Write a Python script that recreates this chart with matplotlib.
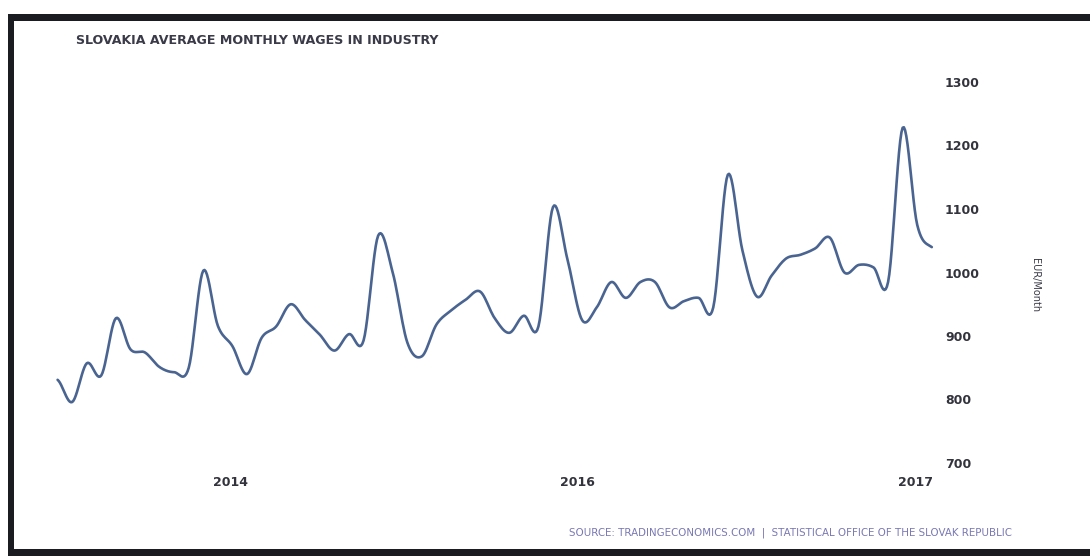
import matplotlib
matplotlib.use("Agg")
import matplotlib.pyplot as plt
from matplotlib.patches import Rectangle
import numpy as np

# --- DATA (EUR / month, Feb 2012 .. Feb 2017) ---
wages = [831, 796, 857, 838, 928, 879, 874, 851, 843, 850,
         1003, 916, 884, 840, 897, 915, 950, 925, 902, 877,
         903, 893, 1058, 1000, 890, 868, 918, 940, 957, 970,
         928, 905, 932, 915, 1103, 1020, 925, 945, 985, 960,
         985, 985, 945, 955, 960, 945, 1154, 1035, 962, 995,
         1022, 1028, 1038, 1055, 1000, 1012, 1008, 985, 1228, 1075,
         1040]
year_ticks = [11.9, 35.7, 58.9]
year_labels = ["2014", "2016", "2017"]
y_ticks = [700, 800, 900, 1000, 1100, 1200, 1300]

LINE = "#4a6491"
TXT = "#33333d"


def smooth(y, steps=12):
    # catmull-rom through the monthly points
    y = np.asarray(y, dtype=float)
    p = np.concatenate([[y[0]], y, [y[-1]]])
    xs, ys = [], []
    t = np.linspace(0, 1, steps, endpoint=False)
    for i in range(len(y) - 1):
        p0, p1, p2, p3 = p[i], p[i + 1], p[i + 2], p[i + 3]
        seg = 0.5 * (2 * p1 + (-p0 + p2) * t + (2 * p0 - 5 * p1 + 4 * p2 - p3) * t**2
                     + (-p0 + 3 * p1 - 3 * p2 + p3) * t**3)
        xs.extend(i + t)
        ys.extend(seg)
    xs.append(len(y) - 1)
    ys.append(y[-1])
    return np.array(xs), np.array(ys)


W, H = 1090, 556
fig = plt.figure(figsize=(W / 100, H / 100), dpi=100)
fig.patch.set_facecolor("white")

x0, x1 = 57.6, 931.8
ytop, ybot = 82, 463
ax = fig.add_axes([x0 / W, 1 - ybot / H, (x1 - x0) / W, (ybot - ytop) / H])

xs, ys = smooth(wages)
ax.plot(xs, ys, color=LINE, lw=1.9, solid_capstyle="round", clip_on=False)

ax.set_xlim(0, len(wages) - 1)
ax.set_ylim(700, 1300)
for s in ax.spines.values():
    s.set_visible(False)

ax.yaxis.tick_right()
ax.set_yticks(y_ticks)
ax.set_yticklabels([str(v) for v in y_ticks])
ax.tick_params(axis="y", length=0, pad=9.5, labelsize=9, labelcolor=TXT)
ax.set_xticks(year_ticks)
ax.set_xticklabels(year_labels)
ax.tick_params(axis="x", length=0, pad=9, labelsize=9, labelcolor=TXT)
for lab in ax.get_xticklabels() + ax.get_yticklabels():
    lab.set_fontweight("bold")

fig.text(1035 / W, 1 - 285 / H, "EUR/Month", rotation=-90, ha="center", va="center",
         fontsize=7, color="#3a3a48")

fig.text(76 / W, 1 - 41 / H, "SLOVAKIA AVERAGE MONTHLY WAGES IN INDUSTRY",
         fontweight="bold", fontsize=9.1, color="#3a3a48", ha="left", va="center")

fig.text(569 / W, 1 - 533 / H,
         "SOURCE: TRADINGECONOMICS.COM  |  STATISTICAL OFFICE OF THE SLOVAK REPUBLIC",
         fontsize=7.4, color="#7878b4", ha="left", va="center")

# black frame of the screenshot
frame = "#1b1b22"
fig.add_artist(Rectangle((8 / W, 1 - 21 / H), 1 - 8 / W, 7 / H,
                         transform=fig.transFigure, color=frame, lw=0))
fig.add_artist(Rectangle((8 / W, 0), 6 / W, 1 - 14 / H,
                         transform=fig.transFigure, color=frame, lw=0))
fig.add_artist(Rectangle((8 / W, 0), 1 - 8 / W, 7 / H,
                         transform=fig.transFigure, color=frame, lw=0))

fig.savefig("out.png", dpi=100)
